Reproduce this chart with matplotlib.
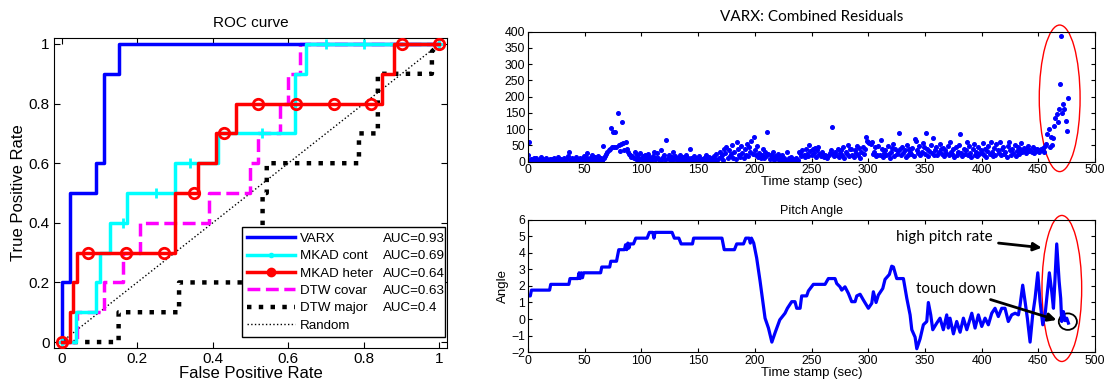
import numpy as np
import matplotlib
matplotlib.use("Agg")
import matplotlib.pyplot as plt
from matplotlib.lines import Line2D
from matplotlib.patches import Ellipse

plt.rcParams["font.family"] = ["Liberation Sans", "DejaVu Sans"]
plt.rcParams["xtick.direction"] = "in"
plt.rcParams["ytick.direction"] = "in"
plt.rcParams["xtick.top"] = True
plt.rcParams["ytick.right"] = True
plt.rcParams["axes.linewidth"] = 0.8

# ---- ROC curves (step vertices) ----
varx_fpr = [0, 0, 0.022, 0.022, 0.091, 0.091, 0.113, 0.113, 0.151, 0.151, 1.0]
varx_tpr = [0, 0.2, 0.2, 0.5, 0.5, 0.6, 0.6, 0.9, 0.9, 1.0, 1.0]

cont_fpr = [0, 0.037, 0.037, 0.091, 0.091, 0.103, 0.103, 0.129, 0.129, 0.173,
            0.173, 0.30, 0.30, 0.415, 0.415, 0.617, 0.617, 0.648, 0.648, 1.0]
cont_tpr = [0, 0, 0.1, 0.1, 0.2, 0.2, 0.3, 0.3, 0.4, 0.4,
            0.5, 0.5, 0.6, 0.6, 0.7, 0.7, 0.9, 0.9, 1.0, 1.0]
cont_mark_fpr = [0, 0.163, 0.25, 0.34, 0.53, 0.70, 0.80, 1.0]
cont_mark_tpr = [0, 0.4, 0.5, 0.6, 0.7, 1.0, 1.0, 1.0]

heter_fpr = [0, 0.022, 0.022, 0.031, 0.031, 0.041, 0.041, 0.30, 0.30, 0.36,
             0.36, 0.41, 0.41, 0.461, 0.461, 0.849, 0.849, 0.881, 0.881, 1.0]
heter_tpr = [0, 0, 0.1, 0.1, 0.2, 0.2, 0.3, 0.3, 0.5, 0.5,
             0.6, 0.6, 0.7, 0.7, 0.8, 0.8, 0.9, 0.9, 1.0, 1.0]
heter_mark_fpr = [0, 0.07, 0.171, 0.27, 0.351, 0.431, 0.519, 0.62, 0.721, 0.82, 0.90, 1.0]
heter_mark_tpr = [0, 0.3, 0.3, 0.3, 0.5, 0.7, 0.8, 0.8, 0.8, 0.8, 1.0, 1.0]

covar_fpr = [0, 0.04, 0.04, 0.112, 0.112, 0.163, 0.163, 0.208, 0.208, 0.391, 0.391,
             0.50, 0.50, 0.52, 0.52, 0.578, 0.578, 0.60, 0.60, 0.63, 0.63, 1.0]
covar_tpr = [0, 0, 0.1, 0.1, 0.2, 0.2, 0.3, 0.3, 0.4, 0.4, 0.5,
             0.5, 0.6, 0.6, 0.7, 0.7, 0.8, 0.8, 0.9, 0.9, 1.0, 1.0]

major_fpr = [0, 0.151, 0.151, 0.311, 0.311, 0.532, 0.532, 0.543, 0.543, 0.787,
             0.787, 0.837, 0.837, 0.98, 0.98, 1.0]
major_tpr = [0, 0, 0.1, 0.1, 0.2, 0.2, 0.5, 0.5, 0.6, 0.6,
             0.7, 0.7, 0.9, 0.9, 0.975, 1.0]

roc_labels = ["VARX", "MKAD cont", "MKAD heter", "DTW covar", "DTW major", "Random"]
roc_auc = ["AUC=0.93", "AUC=0.69", "AUC=0.64", "AUC=0.63", "AUC=0.4", ""]
roc_ticks = [0, 0.2, 0.4, 0.6, 0.8, 1]
roc_ticklabels = ["0", "0.2", "0.4", "0.6", "0.8", "1"]

# ---- VARX combined residuals, one value per second from t=0 ----
residual = [
    20, 60, 5, 8, 3, 12, 2, 10, 6, 0, 4, 14, 3, 8, 1, 6, 11, 2, 5, 9, 0, 7, 3, 12, 4,
    2, 15, 6, 1, 9, 4, 0, 11, 3, 7, 18, 29, 5, 2, 10, 6, 1, 13, 4, 8, 3, 12, 0, 9, 16,
    5, 14, 28, 7, 2, 11, 22, 4, 9, 15, 3, 8, 19, 6, 12, 2, 48, 10, 18, 25, 30, 35, 40, 103, 46,
    92, 46, 92, 45, 151, 51, 33, 55, 123, 56, 35, 62, 40, 30, 25, 20, 14, 18, 10, 30, 8, 22, 5, 12, 28,
    9, 16, 3, 20, 11, 6, 25, 14, 2, 8, 18, 30, 5, 12, 26, 10, 3, 35, 7, 15, 20, 4, 67, 11, 22,
    6, 2, 14, 30, 9, 18, 4, 12, 3, 22, 8, 1, 15, 6, 20, 3, 10, 5, 38, 12, 2, 18, 7, 4, 11,
    2, 16, 5, 9, 1, 12, 4, 20, 7, 3, 14, 6, 10, 2, 18, 8, 25, 4, 12, 30, 15, 22, 6, 40, 28,
    46, 10, 35, 18, 24, 50, 12, 30, 8, 62, 40, 20, 15, 48, 28, 10, 38, 22, 55, 18, 45, 30, 64, 25, 75,
    35, 20, 48, 15, 28, 10, 22, 38, 12, 30, 18, 91, 25, 8, 20, 14, 30, 6, 18, 12, 25, 4, 15, 9, 20,
    3, 12, 6, 30, 2, 10, 5, 15, 1, 8, 4, 12, 0, 6, 30, 28, 18, 35, 22, 14, 40, 25, 18, 50, 32,
    20, 38, 28, 42, 15, 35, 45, 25, 18, 30, 20, 15, 22, 18, 12, 20, 28, 35, 106, 25, 18, 30, 22, 40, 15,
    28, 35, 20, 45, 12, 30, 25, 50, 18, 38, 40, 22, 15, 35, 28, 48, 20, 42, 12, 30, 46, 25, 38, 77, 65,
    60, 58, 55, 62, 25, 30, 45, 18, 20, 48, 22, 66, 40, 15, 28, 35, 20, 48, 25, 12, 30, 42, 55, 18, 38,
    25, 32, 89, 40, 20, 45, 28, 35, 15, 50, 22, 38, 30, 25, 42, 18, 70, 65, 35, 28, 48, 20, 30, 58, 45,
    25, 87, 40, 18, 32, 50, 28, 72, 22, 35, 45, 20, 30, 55, 38, 25, 42, 18, 35, 28, 48, 20, 60, 30, 25,
    38, 15, 45, 22, 30, 50, 84, 28, 18, 40, 25, 35, 62, 20, 48, 28, 15, 38, 55, 22, 30, 18, 45, 25, 35,
    28, 58, 20, 40, 15, 32, 48, 25, 62, 30, 18, 42, 22, 55, 35, 28, 60, 20, 38, 45, 25, 30, 15, 48, 62,
    35, 22, 40, 28, 50, 18, 32, 45, 25, 38, 58, 30, 42, 35, 28, 40, 48, 32, 36, 30, 45, 28, 38, 34, 40,
    35, 30, 38, 36, 42, 30, 48,
]
tail_time = [457, 458, 459, 460, 461, 462, 463, 464, 465, 466,
             467, 468, 469, 470, 471, 472, 473, 474, 475, 476]
tail_residual = [53, 84, 100, 45, 77, 51, 72, 110, 135, 146,
                 123, 161, 239, 388, 149, 177, 163, 125, 94, 197]

# ---- pitch angle ----
pitch_time = [0, 2, 3, 19, 20, 36, 37, 44, 45, 46, 47, 48, 49, 64, 65, 72, 73, 78, 80, 85,
              86, 87, 88, 89, 90, 93, 95, 105, 107, 110, 111, 112, 127, 129, 133, 135, 145, 146, 171, 173,
              182, 184, 190, 192, 195, 196, 197, 199, 201.6, 204.6, 209, 212, 215, 218, 222, 226.6, 228.7, 232.5, 235.4, 236.9,
              239.9, 241.3, 245.7, 247.2, 251.6, 261.9, 264.8, 270.7, 272.2, 275.1, 276.6, 279.5, 282.5, 285.4, 288.4, 289.9, 292.8, 295.7, 300.1, 303.1,
              304.5, 306.9, 308.9, 312.8, 314.8, 318.6, 320.7, 322.2, 325.1, 331, 334, 336.9, 338.4, 341.3, 342.8, 345.7, 348.6, 351.6, 353, 355.1,
              356.9, 360.4, 363.3, 366.2, 369.2, 370.6, 372.1, 375.1, 378, 381, 383.9, 386.9, 391.3, 394.2, 397.1, 400.1, 403, 405.9, 408.9, 411.8,
              414.7, 417.7, 420.6, 423.5, 426.5, 429.5, 432.4, 433.9, 436.2, 438.3, 440.3, 442.7, 445, 447.1, 449.5, 451.5, 453.9, 455.9, 457.4, 459.7,
              461.8, 463.3, 464.1, 466.2, 468.3, 469.7, 470.6, 472.1, 473.5, 475, 476.5]
pitch_angle = [1.4, 1.4, 1.75, 1.75, 2.1, 2.1, 2.45, 2.45, 2.8, 2.45, 2.8, 2.5, 2.8, 2.8, 3.15, 3.15, 3.5, 3.5, 4.2, 4.2,
               4.5, 4.2, 4.6, 4.3, 4.55, 4.55, 4.9, 4.9, 5.25, 5.25, 4.9, 5.25, 5.25, 4.9, 4.9, 4.55, 4.55, 4.9, 4.9, 4.2,
               4.2, 4.55, 4.55, 4.9, 4.9, 4.6, 4.9, 4.6, 3.7, 2.3, 0.05, -0.55, -1.4, -0.8, -0.05, 0.35, 0.65, 1.05, 1.05, 0.65,
               0.65, 1.4, 1.4, 1.7, 2.1, 2.1, 2.45, 2.45, 2.15, 1.95, 1.75, 1.95, 1.55, 1.05, 1.05, 1.4, 1.5, 1.15, 0.65, 0.95,
               1.65, 1.0, 1.45, 1.85, 2.4, 2.7, 3.2, 3.15, 2.45, 2.45, 1.25, 0.25, -0.65, -1.1, -1.8, -1.2, -0.35, -0.15, 1.0, 0.25,
               -0.65, -0.25, 0.05, -0.65, 0.25, -0.55, 0.05, -0.9, -0.15, -0.8, 0.05, -0.65, 0.35, -0.55, 0.25, -0.45, 0.05, -0.35, 0.35, 0.65,
               0.15, 0.65, 0.65, -0.15, 0.25, 0.35, 0.25, 0.85, 2.05, 1.05, 0.05, -1.4, 0.25, 1.25, 2.8, 1.05, -0.35, 0.25, 1.25, 2.8,
               1.65, 0.65, 1.65, 4.55, 2.3, 1.25, -0.15, 0.45, -0.1, 0.05, -0.25]

fig = plt.figure(figsize=(11.04, 3.81), dpi=100)

# ================= ROC curve =================
ax = fig.add_axes([0.0489, 0.0866, 0.356, 0.8136])
ax.plot([0, 1], [0, 1], color="black", ls=":", lw=1.0, zorder=1)
ax.plot(major_fpr, major_tpr, color="black", ls=":", lw=3.2, zorder=2)
ax.plot(covar_fpr, covar_tpr, color="magenta", ls="--", lw=2.5, zorder=3)
ax.plot(cont_fpr, cont_tpr, color="cyan", lw=2.5, zorder=4)
ax.plot(cont_mark_fpr, cont_mark_tpr, ls="none", marker="+", ms=7, mew=2, color="cyan", zorder=4)
ax.plot(heter_fpr, heter_tpr, color="red", lw=2.5, zorder=5)
ax.plot(heter_mark_fpr, heter_mark_tpr, ls="none", marker="o", ms=7.5, mew=2,
        mfc="none", mec="red", zorder=6)
ax.plot(varx_fpr, varx_tpr, color="blue", lw=2.5, zorder=3.5)

ax.set_xlim(-0.02, 1.02)
ax.set_ylim(-0.02, 1.02)
ax.set_xticks(roc_ticks)
ax.set_xticklabels(roc_ticklabels)
ax.set_yticks(roc_ticks)
ax.set_yticklabels(roc_ticklabels)
ax.tick_params(labelsize=11, length=4, width=0.8, pad=3)
ax.set_xlabel("False Positive Rate", fontsize=12, labelpad=0)
ax.set_ylabel("True Positive Rate", fontsize=12, labelpad=2)
ax.set_title("ROC curve", fontsize=11, pad=8)

handles = [
    Line2D([], [], color="blue", lw=2.5),
    Line2D([], [], color="cyan", lw=2.5, marker=".", ms=6),
    Line2D([], [], color="red", lw=2.5, marker="o", ms=6, mfc="red", mec="red"),
    Line2D([], [], color="magenta", lw=2.5, ls="--"),
    Line2D([], [], color="black", lw=3.2, ls=":"),
    Line2D([], [], color="black", lw=1.0, ls=":"),
]
leg = ax.legend(handles, roc_labels, loc="lower left", bbox_to_anchor=(0.478, 0.035, 0.517, 0.35),
                mode="expand", borderaxespad=0, fontsize=9.6, handlelength=3.6, handletextpad=0.35,
                labelspacing=0.38, borderpad=0.4, fancybox=False, framealpha=1,
                edgecolor="black")
leg.get_frame().set_linewidth(1.0)
leg.set_zorder(10)

# ================= VARX residuals =================
ax1 = fig.add_axes([0.4783, 0.5756, 0.5136, 0.3412])
ax1.plot(np.arange(len(residual)), residual, ls="none", marker="o", ms=2.6, color="blue")
ax1.plot(tail_time, tail_residual, ls="none", marker="o", ms=2.6, color="blue")
ax1.set_xlim(0, 500)
ax1.set_ylim(0, 400)
ax1.set_xticks(np.arange(0, 501, 50))
ax1.set_yticks(np.arange(0, 401, 50))
ax1.tick_params(labelsize=8.8, length=3, width=0.8, pad=2)
ax1.set_xlabel("Time stamp (sec)", fontsize=9.5, labelpad=0)
ax1.set_title("VARX: Combined Residuals", fontsize=11, family="Lato", pad=8)
ax1.add_patch(Ellipse((468.8, 195), 36, 451, fill=False, ec="red", lw=1.0, clip_on=False))

# ================= Pitch angle =================
ax2 = fig.add_axes([0.4783, 0.0761, 0.5136, 0.3465])
ax2.plot(pitch_time, pitch_angle, color="blue", lw=2.3)
ax2.set_xlim(0, 500)
ax2.set_ylim(-2, 6)
ax2.set_xticks(np.arange(0, 501, 50))
ax2.set_yticks(np.arange(-2, 7, 1))
ax2.tick_params(labelsize=8.8, length=3, width=0.8, pad=2)
ax2.set_xlabel("Time stamp (sec)", fontsize=9.5, labelpad=0)
ax2.set_ylabel("Angle", fontsize=9.5, labelpad=2)
ax2.set_title("Pitch Angle", fontsize=9, pad=4)
ax2.add_patch(Ellipse((470.7, 1.85), 35, 8.85, fill=False, ec="red", lw=1.0, clip_on=False))
ax2.add_patch(Ellipse((476, -0.16), 16, 1.0, fill=False, ec="black", lw=1.3, clip_on=False))
arrow = dict(arrowstyle="-|>", color="black", lw=2, mutation_scale=12, shrinkA=2, shrinkB=0)
ax2.annotate("high pitch rate", xy=(453, 4.32), xytext=(410, 4.95), ha="right", va="center",
             fontsize=11, family="Lato", arrowprops=arrow)
ax2.annotate("touch down", xy=(466, -0.06), xytext=(413, 1.82), ha="right", va="center",
             fontsize=11, family="Lato", arrowprops=arrow)

# AUC column of the legend, aligned with the legend rows
fig.canvas.draw()
for txt, auc in zip(leg.get_texts(), roc_auc):
    bb = txt.get_window_extent()
    y = (bb.y0 + bb.y1) / 2 / fig.bbox.height
    fig.text(383 / 1104, y, auc, fontsize=9.6, va="center", ha="left", zorder=20)

fig.savefig("out.png", dpi=100)
